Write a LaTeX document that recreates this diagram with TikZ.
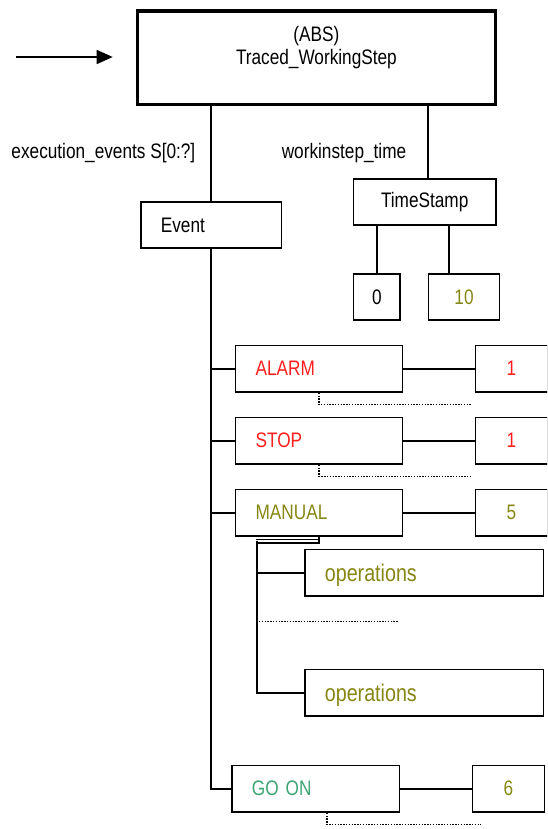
\documentclass[tikz,border=0pt]{standalone}
\usepackage{fontspec}
\setmainfont{Liberation Sans}[FakeStretch=0.82]
\usepackage{xcolor}
\usetikzlibrary{arrows.meta,positioning}
\definecolor{alarmred}{RGB}{255,30,30}
\definecolor{olivetxt}{RGB}{134,134,20}
\definecolor{goongreen}{RGB}{60,165,115}
\tikzstyle{arrow} = [line width=1.6pt,-{Triangle[length=16pt,width=14pt]}]
\tikzstyle{dots} = [line width=1.4pt,dash pattern=on 1.4pt off 1.4pt]
\tikzstyle{lbl} = [inner sep=0pt]
\tikzset{
  evbox/.style={draw, minimum height=46.4pt, inner xsep=20pt, inner ysep=0pt, text width=#1, align=left},
  valbox/.style={draw, minimum height=46.4pt, minimum width=#1, inner sep=0pt},
  opsfont/.style={font=\fontsize{24}{26}\selectfont, text height=18pt, text depth=0pt}
}

\begin{document}
\begin{tikzpicture}[x=1pt, y=-1pt, line width=1.6pt, every node/.style={font=\fontsize{21}{23}\selectfont}]
        \path[use as bounding box, clip] (0,0) rectangle (547,829);
        % 顶层
        \node (tws) [draw, line width=3.2pt, minimum width=358pt, minimum height=93.5pt, align=center, text height=40pt, text depth=26pt] at (316.4,57.7) {(ABS)\\Traced\_WorkingStep};
        \coordinate (inS) at (16,57);
        \coordinate (inE) at (112.7,57);
        % 第二层
        \node (event) [evbox=100.4pt, below right=95pt and 4.3pt of tws.south west] {Event};
        \node (tstamp) [draw, minimum width=142.4pt, minimum height=46.4pt, below left=72pt and 0.3pt of tws.south east] {TimeStamp};
        \node (evlbl) [lbl, above left=48pt and 15pt of event.north, anchor=east] {execution\_events S[0:?]};
        \node (tslbl) [lbl, above left=25pt and 17.7pt of tstamp.north, anchor=east] {workinstep\_time};
        % 第三层
        \node (zero) [valbox=46.7pt, below right=47pt and 0pt of tstamp.south west] {0};
        \node (ten) [valbox=71pt, text=olivetxt, right=26.7pt of zero] {10};
        % 事件
        \node (alarm) [evbox=126.7pt, text=alarmred, below right=95.7pt and 23.7pt of event.south] {ALARM};
        \node (stop) [evbox=126.7pt, text=alarmred, below=24pt of alarm] {STOP};
        \node (manual) [evbox=126.7pt, text=olivetxt, below=24pt of stop] {MANUAL};
        \node (ops1) [evbox=198.4pt, text=olivetxt, opsfont, below right=12pt and 69.3pt of manual.south west] {operations};
        \node (ops2) [evbox=198.4pt, text=olivetxt, opsfont, below=72pt of ops1] {operations};
        \node (goon) [evbox=127.4pt, text=goongreen, below right=228pt and -3.7pt of manual.south west] {GO ON};
        % 数值
        \node (alarmv) [valbox=71.7pt, text=alarmred, right=71.7pt of alarm] {1};
        \node (stopv) [valbox=71.7pt, text=alarmred, right=71.7pt of stop] {1};
        \node (manualv) [valbox=71.7pt, text=olivetxt, right=71.7pt of manual] {5};
        \node (goonv) [valbox=71.7pt, text=olivetxt, right=71.7pt of goon] {6};
        \coordinate (opsbar) at (257,543);

        % 连线
        \draw[arrow] (inS) -- (inE);
        \draw (event.north) -- (event.north |- tws.south);
        \draw ([xshift=3.3pt]tstamp.north) -- ([xshift=3.3pt]tstamp.north |- tws.south);
        \draw (zero.north) -- (zero.north |- tstamp.south);
        \draw ([xshift=-15pt]ten.north) -- ([xshift=-15pt]ten.north |- tstamp.south);

        \draw (event.south) |- (alarm.west);
        \draw (event.south) |- (stop.west);
        \draw (event.south) |- (manual.west);
        \draw (event.south) |- (goon.west);

        \draw (alarm) -- (alarmv);
        \draw (stop) -- (stopv);
        \draw (manual) -- (manualv);
        \draw (goon) -- (goonv);

        \draw (manual.south) |- (opsbar);
        \draw ([yshift=-2.8pt]manual.south) -- ++(-62.8,0);
        \draw ([yshift=2.5pt]opsbar) |- (ops1.west);
        \draw ([yshift=2.5pt]opsbar) |- (ops2.west);

        % 虚线
        \draw[dots] (alarm.south) -- ++(0,12) -- ++(153,0);
        \draw[dots] (stop.south) -- ++(0,11.5) -- ++(153,0);
        \draw[dots] ([xshift=2pt]opsbar) ++(0,78.7) -- ++(139,0);
        \draw[dots] ([xshift=11.5pt]goon.south) -- ++(0,12) -- ++(153.7,0);
    \end{tikzpicture}
\end{document}
